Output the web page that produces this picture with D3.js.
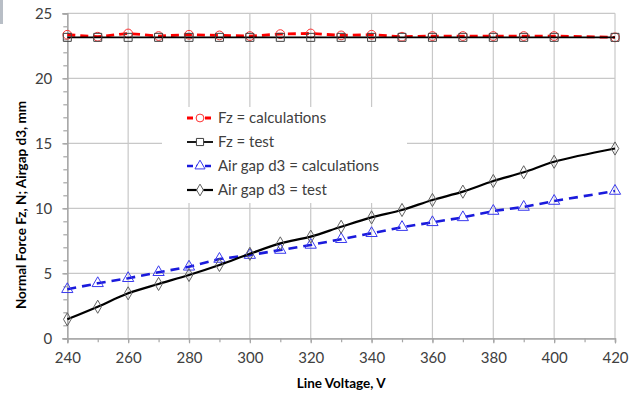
<!DOCTYPE html>
<html><head><meta charset="utf-8">
<script src="https://cdn.jsdelivr.net/npm/d3@7"></script>
<style>
html,body{margin:0;padding:0;background:#fff;}
svg{display:block;font-family:Lato,"Open Sans",sans-serif;}
</style></head>
<body>
<svg id="c" width="641" height="401"></svg>
<script>
// ---- data ----
const voltage      = [240,250,260,270,280,290,300,310,320,330,340,350,360,370,380,390,400,420];
const fzCalc       = [23.35,23.2,23.45,23.25,23.35,23.3,23.25,23.4,23.45,23.3,23.35,23.2,23.25,23.25,23.25,23.25,23.25,23.15];
const fzTest       = [23.15,23.15,23.15,23.15,23.15,23.15,23.15,23.15,23.15,23.15,23.15,23.15,23.15,23.15,23.15,23.15,23.15,23.15];
const gapCalc      = [3.77,4.23,4.62,5.08,5.5,6.1,6.4,6.79,7.18,7.62,8.08,8.55,8.92,9.3,9.79,10.1,10.56,11.33];
const gapTest      = [1.46,2.43,3.46,4.18,4.87,5.64,6.5,7.3,7.82,8.58,9.3,9.87,10.64,11.28,12.1,12.77,13.58,14.6];
const xTicks       = [240,260,280,300,320,340,360,380,400,420];
const yTicks       = [0,5,10,15,20,25];
const seriesNames  = ["Fz = calculations","Fz = test","Air gap d3 = calculations","Air gap d3 = test"];
const xTitle = "Line Voltage, V";
const yTitle = "Normal Force Fz, N; Airgap d3, mm";

const svg = d3.select("#c");
const x = d3.scaleLinear().domain([240,420]).range([67.3,615]);
const y = d3.scaleLinear().domain([0,25]).range([338.3,13.3]);
const grid = "#c8c8c8", axisCol = "#a6a6a6", txt = "#404040";

// left edge decoration
svg.append("rect").attr("x",0).attr("y",0).attr("width",3).attr("height",24).attr("fill","#b8bec6");

// gridlines
const g = svg.append("g");
g.selectAll(".hg").data(yTicks.filter(d=>d>0)).enter().append("line")
 .attr("x1",x(240)).attr("x2",x(420)).attr("y1",d=>y(d)).attr("y2",d=>y(d))
 .attr("stroke",grid).attr("stroke-width",1.2);
g.selectAll(".vg").data(xTicks.filter(d=>d>240)).enter().append("line")
 .attr("x1",d=>x(d)).attr("x2",d=>x(d)).attr("y1",y(0)).attr("y2",y(25))
 .attr("stroke",grid).attr("stroke-width",1.2);

// axes
const yAxis = d3.axisLeft(y).tickValues(yTicks).tickSize(5).tickPadding(10).tickFormat(d3.format("d"));
const yMinor = d3.axisLeft(y).tickValues(d3.range(0,26,1)).tickSize(4).tickFormat("");
const xAxis = d3.axisBottom(x).tickValues(xTicks).tickSize(5).tickPadding(9).tickFormat(d3.format("d"));
const xMinor = d3.axisBottom(x).tickValues(d3.range(240,421,10)).tickSize(4).tickFormat("");

function styleAxis(sel){
  sel.select(".domain").attr("stroke",axisCol).attr("stroke-width",1.2);
  sel.selectAll(".tick line").attr("stroke",axisCol).attr("stroke-width",1.2);
  sel.selectAll("text").attr("fill",txt).style("font-size","15px").style("font-family","Lato, 'Open Sans', sans-serif");
}
svg.append("g").attr("transform",`translate(${x(240)},0)`).call(yMinor).call(styleAxis);
svg.append("g").attr("transform",`translate(${x(240)},0)`).call(yAxis).call(styleAxis);
svg.append("g").attr("transform",`translate(0,${y(0)})`).call(xMinor).call(styleAxis);
svg.append("g").attr("transform",`translate(0,${y(0)})`).call(xAxis).call(styleAxis);

// legend background (hides gridlines)
svg.append("rect").attr("x",162).attr("y",107).attr("width",245).attr("height",96).attr("fill","#fff");

// series
function rows(vals){ return voltage.map((v,i)=>({v, val: vals[i]})); }
const lineStraight = d3.line().x(d=>x(d.v)).y(d=>y(d.val));
const lineSmooth = d3.line().x(d=>x(d.v)).y(d=>y(d.val)).curve(d3.curveCatmullRom.alpha(0.5));

const series = [
  {data: rows(fzCalc), color:"#ff0000", width:2.8, dash:"8,5", line:lineStraight, marker:"circle", mstroke:"#ff3030"},
  {data: rows(fzTest), color:"#000000", width:1.8, dash:null, line:lineStraight, marker:"square", mstroke:"#404040"},
  {data: rows(gapCalc), color:"#1a1adc", width:2.6, dash:"9,6", line:lineStraight, marker:"triangle", mstroke:"#3a3aee"},
  {data: rows(gapTest), color:"#000000", width:2.2, dash:null, line:lineSmooth, marker:"diamond", mstroke:"#606060"}
];
const symMap = {circle:d3.symbolCircle, square:d3.symbolSquare, triangle:d3.symbolTriangle, diamond:d3.symbolDiamond};
const symSize = {circle:60, square:64, triangle:55, diamond:50};

series.forEach(s=>{
  svg.append("path").datum(s.data).attr("d",s.line).attr("fill","none")
    .attr("stroke",s.color).attr("stroke-width",s.width)
    .attr("stroke-dasharray",s.dash).attr("stroke-linejoin","round");
  svg.selectAll(null).data(s.data).enter().append("path")
    .attr("d",d3.symbol(symMap[s.marker],symSize[s.marker]))
    .attr("transform",d=>`translate(${x(d.v)},${y(d.val)})`)
    .attr("fill","none").attr("stroke",s.mstroke).attr("stroke-width",1);
});

// legend
const ly = [118,142,166,190];
series.forEach((s,i)=>{
  svg.append("line").attr("x1",187).attr("x2",213).attr("y1",ly[i]).attr("y2",ly[i])
    .attr("stroke",s.color).attr("stroke-width",s.width).attr("stroke-dasharray",s.dash?"6,3":null);
  svg.append("path").attr("d",d3.symbol(symMap[s.marker],symSize[s.marker]*0.8)())
    .attr("transform",`translate(200,${ly[i]})`).attr("fill","#fff").attr("stroke",s.mstroke).attr("stroke-width",1);
  svg.append("text").attr("x",218).attr("y",ly[i]).attr("dy","0.35em")
    .attr("fill",txt).style("font-size","15px").text(seriesNames[i]);
});

// axis titles
svg.append("text").attr("x",x(330)).attr("y",388).attr("text-anchor","middle")
  .attr("fill","#000").style("font-size","13.5px").style("font-weight","bold").text(xTitle);
svg.append("text").attr("transform","translate(26,205) rotate(-90)").attr("text-anchor","middle")
  .attr("fill","#000").style("font-size","13.5px").style("font-weight","bold").text(yTitle);
</script>
</body></html>
